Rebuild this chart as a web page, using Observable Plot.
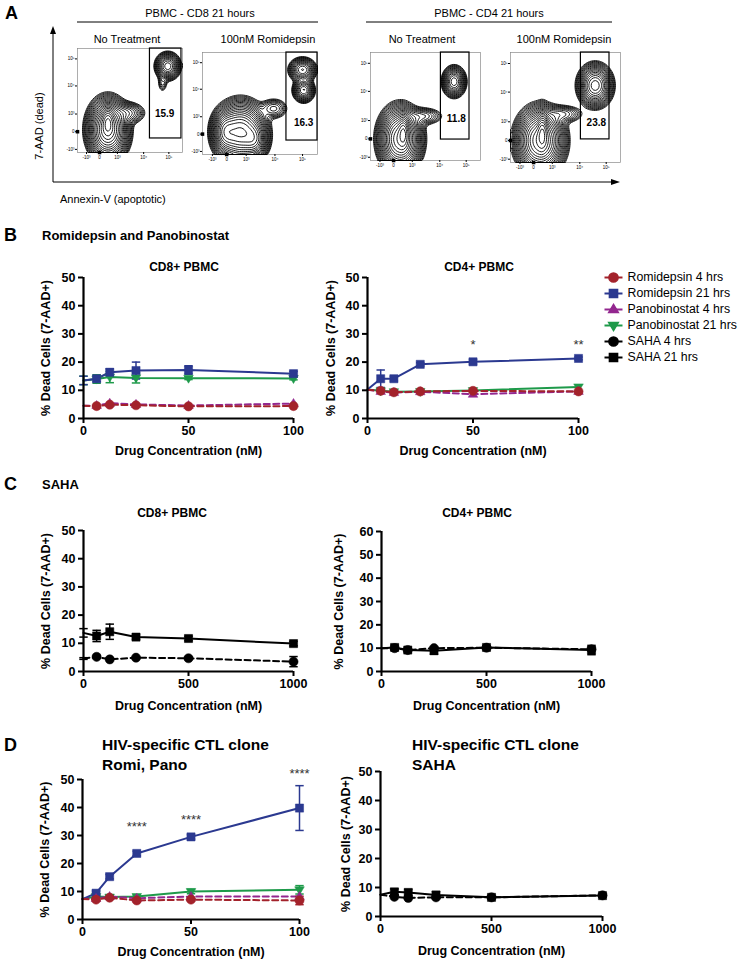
<!DOCTYPE html>
<html><head><meta charset="utf-8">
<script src="https://cdn.jsdelivr.net/npm/d3@7"></script>
<script src="https://cdn.jsdelivr.net/npm/@observablehq/plot@0.6"></script>
<style>
body{margin:0;background:#fff;font-family:"Liberation Sans",Arial,sans-serif;color:#000;}
#root{position:relative;width:744px;height:962px;overflow:hidden;background:#fff;}
.t{position:absolute;white-space:nowrap;line-height:1;}
</style></head><body><div id="root"></div>
<script>
// ---------------- DATA ----------------
const seriesNames = ["Romidepsin 4 hrs","Romidepsin 21 hrs","Panobinostat 4 hrs","Panobinostat 21 hrs","SAHA 4 hrs","SAHA 21 hrs"];
const seriesColors = ["#A3222B","#2B3990","#93278F","#1E9A4A","#000000","#000000"];

const xRP = [0, 6.25, 12.5, 25, 50, 100];
const xSAHA = [0, 62.5, 125, 250, 500, 1000];
const xTicksRP = [0, 50, 100];
const xTicksSAHA = [0, 500, 1000];
const yTicks50 = [0, 10, 20, 30, 40, 50];
const yTicks60 = [0, 10, 20, 30, 40, 50, 60];

// B  CD8+ PBMC
const bCD8_romi4 = [4.5, 4.4, 4.9, 4.7, 4.3, 4.4];
const bCD8_romi21 = [13.5, 14.1, 16.4, 17.0, 17.2, 15.9];
const bCD8_romi21_err = [1.5, 1.0, 1.2, 3.0, 1.5, 0.8];
const bCD8_pano4 = [4.5, 4.6, 5.4, 5.0, 4.6, 5.3];
const bCD8_pano21 = [13.5, 14.0, 14.7, 14.4, 14.3, 14.2];
const bCD8_pano21_err = [1.5, 1.5, 2.0, 1.8, 0.5, 0.5];
// B  CD4+ PBMC
const bCD4_romi4 = [10.2, 9.8, 9.3, 9.6, 9.8, 9.6];
const bCD4_romi21 = [10.3, 14.1, 14.1, 19.2, 20.1, 21.3];
const bCD4_romi21_err = [0, 3.1, 0.8, 0.6, 0.8, 0.5];
const bCD4_pano4 = [10.2, 9.6, 9.2, 9.5, 8.6, 9.6];
const bCD4_pano21 = [10.3, 9.8, 9.5, 9.6, 9.9, 11.2];
const bCD4_starX = [50, 100];
const bCD4_starY = [26, 26];
const bCD4_starText = ["*", "**"];
// C  CD8+ PBMC (SAHA)
const cCD8_saha4 = [4.6, 5.2, 4.3, 4.9, 4.7, 3.5];
const cCD8_saha4_err = [0.3, 0.5, 0.4, 0.4, 0.5, 1.8];
const cCD8_saha21 = [13.7, 12.6, 14.1, 12.2, 11.7, 9.9];
const cCD8_saha21_err = [1.5, 2.0, 2.7, 0.8, 0.8, 0.8];
// C  CD4+ PBMC (SAHA)
const cCD4_saha4 = [10.0, 10.0, 9.2, 10.0, 10.2, 9.5];
const cCD4_saha21 = [10.0, 10.3, 9.2, 8.9, 10.3, 9.2];
const cCD4_saha21_err = [0, 1.0, 0.8, 1.5, 0.8, 2.0];
// D  HIV-specific CTL clone, Romi/Pano
const dRP_romi4 = [7.3, 7.1, 7.8, 6.8, 7.1, 6.8];
const dRP_romi4_err = [0, 0.5, 0.5, 0.5, 0.5, 1.5];
const dRP_romi21 = [7.3, 9.4, 15.3, 23.6, 29.5, 39.8];
const dRP_romi21_err = [0, 0.8, 0.8, 0.8, 0.8, 8.0];
const dRP_pano4 = [7.3, 7.5, 8.2, 7.6, 8.2, 8.2];
const dRP_pano21 = [7.3, 8.2, 8.0, 8.2, 10.0, 10.6];
const dRP_pano21_err = [0, 0.5, 0.5, 0.5, 0.8, 1.5];
const dRP_starX = [25, 50, 100];
const dRP_starY = [33, 35.5, 52];
const dRP_starText = ["****", "****", "****"];
// D  HIV-specific CTL clone, SAHA
const dS_saha4 = [7.5, 6.8, 6.4, 6.6, 6.6, 7.3];
const dS_saha21 = [7.5, 8.5, 8.3, 7.4, 6.6, 7.2];
const dS_saha21_err = [0, 1.0, 1.0, 1.2, 0.5, 0.5];

// A  flow cytometry panels
const flowTitles = ["No Treatment", "100nM Romidepsin", "No Treatment", "100nM Romidepsin"];
const flowGroups = ["PBMC - CD8 21 hours", "PBMC - CD4 21 hours"];
const flowGatePct = ["15.9", "16.3", "11.8", "23.8"];
const flowTickPos = [8.6, 21, 38, 63, 87];
const flowTickPosY = [3, 20, 37, 64, 90];
const flowTickLab = ["-10³", "0", "10³", "10⁴", "10⁵"];
// gate [x1, x2, y1, y2] in display units (0-100)
const flowGates = [[69, 99, 13.5, 100], [73, 100, 13.7, 100], [64, 90, 19.4, 100], [64, 90, 21, 100]];
const flowPctPos = [[83, 37], [88, 31], [78, 39], [78, 36]];
// populations [cx, cy, sx, sy, weight]
const flowPop1 = [[29, 22, 8, 12, 1], [29, 30, 3, 7, 0.6], [47, 38, 8, 5, 0.1], [86, 83, 5, 5.5, 0.35], [81, 67, 2.5, 5, 0.03]];
const flowPop2 = [[33, 22, 9, 12, 1], [20, 22, 5, 9, 0.5], [45, 15, 5, 8, 0.4], [62, 45, 6, 5, 0.06], [87, 83, 5, 5, 0.3], [88, 63, 4, 5, 0.3]];
const flowPop3 = [[27, 20, 8, 12, 1], [30, 26, 2.5, 8, 0.6], [47, 41, 9, 4, 0.07], [76, 73, 4.5, 6, 0.35]];
const flowPop4 = [[27, 20, 9, 12, 1], [29, 28, 2.5, 9, 0.6], [47, 44, 9, 4, 0.07], [77, 70, 6.5, 8, 0.55]];

// ---------------- HELPERS ----------------
const root = document.getElementById("root");
const FONT = '"Liberation Sans", Arial, Helvetica, sans-serif';
function txt(s, x, y, o = {}) {
  const d = document.createElement("div");
  d.className = "t";
  d.textContent = s;
  d.style.left = x + "px"; d.style.top = y + "px";
  d.style.fontSize = (o.size || 12) + "px";
  d.style.fontWeight = o.weight || "normal";
  const tx = o.anchor === "middle" ? "-50%" : "0";
  d.style.transform = `translate(${tx},-50%)`;
  if (o.rotate) { d.style.transform = `translate(-50%,-50%) rotate(${o.rotate}deg)`; }
  root.appendChild(d);
}
function place(el, left, top) {
  el.style.position = "absolute";
  el.style.left = left + "px"; el.style.top = top + "px";
  root.appendChild(el);
}
const triDown = {draw(ctx, size) {
  const r = Math.sqrt(size / Math.PI) * 1.1;
  ctx.moveTo(0, r); ctx.lineTo(r * 0.95, -r * 0.6); ctx.lineTo(-r * 0.95, -r * 0.6); ctx.closePath();
}};
const triUp = {draw(ctx, size) {
  const r = Math.sqrt(size / Math.PI) * 1.1;
  ctx.moveTo(0, -r); ctx.lineTo(r * 0.95, r * 0.6); ctx.lineTo(-r * 0.95, r * 0.6); ctx.closePath();
}};
const capSym = {draw(ctx, size) {
  const r = Math.sqrt(size / Math.PI);
  ctx.moveTo(-r, 0); ctx.lineTo(r, 0);
}};
const symbolRange = [d3.symbolCircle, d3.symbolSquare, triUp, triDown, d3.symbolCircle, d3.symbolSquare];

function linePanel(cfg) {
  const data = cfg.rows.flatMap(r => r.y.map((v, i) => ({
    series: r.name, x: r.x[i], y: v, e: r.e ? r.e[i] : 0, dashed: r.name.includes("4 hrs")
  })));
  const errs = data.filter(d => d.e > 0);
  const marks = [];
  for (const r of cfg.rows) {
    const rd = data.filter(d => d.series === r.name);
    marks.push(Plot.line(rd, {x: "x", y: "y", stroke: "series", strokeWidth: 2,
      strokeDasharray: rd[0].dashed ? "6,3.5" : null}));
  }
  marks.push(
    Plot.ruleX(errs, {x: "x", y1: d => d.y - d.e, y2: d => d.y + d.e, stroke: "series", strokeWidth: 1.5}),
    Plot.dot(errs, {x: "x", y: d => d.y - d.e, symbol: capSym, r: 4.2, stroke: "series", fill: "none", strokeWidth: 1.5}),
    Plot.dot(errs, {x: "x", y: d => d.y + d.e, symbol: capSym, r: 4.2, stroke: "series", fill: "none", strokeWidth: 1.5}),
    Plot.dot(data.filter(d => d.x > 0), {x: "x", y: "y", symbol: "series", fill: "series", stroke: "series", r: 4.6, strokeWidth: 0.5})
  );
  if (cfg.stars) {
    const sd = cfg.stars.x.map((x, i) => ({x, y: cfg.stars.y[i], t: cfg.stars.t[i]}));
    marks.push(Plot.text(sd, {x: "x", y: "y", text: "t", fontSize: 13, fontWeight: "normal", fill: "#333"}));
  }
  marks.push(
    Plot.ruleX([0], {strokeWidth: 2.2}),
    Plot.ruleY([0], {strokeWidth: 2.2}),
    Plot.axisY({ticks: cfg.yTicks, tickSize: 5, tickPadding: 3, strokeWidth: 2, tickFormat: d => String(d),
      label: "% Dead Cells (7-AAD+)", labelAnchor: "center", labelArrow: false, labelOffset: cfg.yLabOff}),
    Plot.axisX({ticks: cfg.xTicks, tickSize: 5, tickPadding: 3, strokeWidth: 2, tickFormat: d => String(d),
      label: "Drug Concentration (nM)", labelAnchor: "center", labelArrow: false, labelOffset: cfg.xLabOff})
  );
  const p = Plot.plot({
    width: cfg.width, height: cfg.height,
    marginLeft: cfg.mL, marginRight: cfg.mR, marginTop: cfg.mT, marginBottom: cfg.mB,
    x: {domain: cfg.xDomain},
    y: {domain: cfg.yDomain},
    color: {domain: seriesNames, range: seriesColors},
    symbol: {domain: seriesNames, range: symbolRange},
    style: {fontFamily: FONT, fontSize: "12.5px", fontWeight: "bold", background: "transparent", overflow: "visible", color: "#000"},
    marks
  });
  place(p, cfg.left, cfg.top);
}

function flowPanel(i, frame, pops) {
  const [fl, ft, fw, fh] = frame;
  const mL = 16, mT = 2, mR = 2, mB = 11;
  const val = (x, y) => {
    let s = 1e-9;
    for (const [cx, cy, sx, sy, w] of pops) s += w * Math.exp(-((x - cx) ** 2 / (2 * sx * sx) + (y - cy) ** 2 / (2 * sy * sy)));
    return Math.log(s);
  };
  const g = flowGates[i];
  const labX = new Map(flowTickPos.map((p, k) => [p, flowTickLab[k]]));
  const labY = new Map(flowTickPosY.map((p, k) => [p, flowTickLab[k]]));
  const marks = [Plot.frame({stroke: "#8a8a8a", strokeWidth: 0.7})];
  if (Plot.contour) {
    marks.push(Plot.contour({value: val, x1: 0, y1: 0, x2: 100, y2: 100,
      thresholds: d3.range(-4.6, 0.4, 0.24), stroke: "#000", strokeWidth: 0.9, fill: "none"}));
  }
  marks.push(
    Plot.rect([g], {x1: d => d[0], x2: d => d[1], y1: d => d[2], y2: d => d[3], fill: "none", stroke: "#000", strokeWidth: 1.2}),
    Plot.text([flowGatePct[i]], {x: flowPctPos[i][0], y: flowPctPos[i][1], text: d => d, fontSize: 10, fontWeight: "bold"}),
    Plot.dot([0], {x: 21, y: 0, symbol: "square", r: 2, fill: "#000"}),
    Plot.dot([0], {x: 0, y: 20, symbol: "square", r: 2, fill: "#000"}),
    Plot.axisX({ticks: flowTickPos, tickFormat: d => labX.get(d), tickSize: 2, tickPadding: 1, fontSize: 4.5, label: null}),
    Plot.axisY({ticks: flowTickPosY, tickFormat: d => labY.get(d), tickSize: 2, tickPadding: 1, fontSize: 4.5, label: null})
  );
  const p = Plot.plot({
    width: fw + mL + mR, height: fh + mT + mB,
    marginLeft: mL, marginRight: mR, marginTop: mT, marginBottom: mB,
    x: {domain: [0, 100]}, y: {domain: [0, 100]},
    style: {fontFamily: FONT, background: "transparent", overflow: "visible"},
    marks
  });
  place(p, fl - mL, ft - mT);
}

// ---------------- PANEL A ----------------
txt("A", 5, 13, {size: 18, weight: "bold"});
txt(flowGroups[0], 200, 13, {size: 11, anchor: "middle"});
txt(flowGroups[1], 489, 13, {size: 11, anchor: "middle"});
const flowTitleX = [127, 268, 422, 564];
flowTitles.forEach((t, i) => txt(t, flowTitleX[i], 39, {size: 11, anchor: "middle"}));
const flowFrames = [[77, 48, 105, 104], [202, 52, 115, 102], [370, 52, 110, 108], [510, 52, 110, 110]];
[flowPop1, flowPop2, flowPop3, flowPop4].forEach((pops, i) => flowPanel(i, flowFrames[i], pops));
{
  const ns = "http://www.w3.org/2000/svg";
  const s = document.createElementNS(ns, "svg");
  s.setAttribute("width", 744); s.setAttribute("height", 200);
  s.innerHTML = `
    <line x1="77" y1="22" x2="318" y2="22" stroke="#000" stroke-width="1"/>
    <line x1="366" y1="22" x2="612" y2="22" stroke="#000" stroke-width="1"/>
    <line x1="53" y1="182" x2="53" y2="32" stroke="#000" stroke-width="1"/>
    <path d="M53,26 L50,34 L56,34 Z" fill="#000"/>
    <line x1="53" y1="182" x2="614" y2="182" stroke="#000" stroke-width="1"/>
    <path d="M620,182 L611,179 L611,185 Z" fill="#000"/>`;
  place(s, 0, 0);
}
txt("7-AAD (dead)", 39, 126, {size: 11, rotate: -90});
txt("Annexin-V (apoptotic)", 60, 199, {size: 11});

// ---------------- PANEL B ----------------
txt("B", 4, 235, {size: 18, weight: "bold"});
txt("Romidepsin and Panobinostat", 42, 235, {size: 13, weight: "bold"});
txt("CD8+ PBMC", 184, 267, {size: 12, weight: "bold", anchor: "middle"});
txt("CD4+ PBMC", 479, 267, {size: 12, weight: "bold", anchor: "middle"});

linePanel({left: 20, top: 255, width: 300, height: 210, mL: 63, mR: 27, mT: 22, mB: 47,
  xDomain: [0, 100], yDomain: [0, 50], xTicks: xTicksRP, yTicks: yTicks50, yLabOff: 42, xLabOff: 36,
  rows: [
    {name: "Panobinostat 21 hrs", x: xRP, y: bCD8_pano21, e: bCD8_pano21_err},
    {name: "Romidepsin 21 hrs", x: xRP, y: bCD8_romi21, e: bCD8_romi21_err},
    {name: "Panobinostat 4 hrs", x: xRP, y: bCD8_pano4},
    {name: "Romidepsin 4 hrs", x: xRP, y: bCD8_romi4}
  ]});
linePanel({left: 320, top: 255, width: 280, height: 210, mL: 47, mR: 22, mT: 22, mB: 47,
  xDomain: [0, 100], yDomain: [0, 50], xTicks: xTicksRP, yTicks: yTicks50, yLabOff: 41, xLabOff: 36,
  stars: {x: bCD4_starX, y: bCD4_starY, t: bCD4_starText},
  rows: [
    {name: "Panobinostat 21 hrs", x: xRP, y: bCD4_pano21},
    {name: "Romidepsin 21 hrs", x: xRP, y: bCD4_romi21, e: bCD4_romi21_err},
    {name: "Panobinostat 4 hrs", x: xRP, y: bCD4_pano4},
    {name: "Romidepsin 4 hrs", x: xRP, y: bCD4_romi4}
  ]});

// legend
{
  const lg = Plot.plot({
    width: 144, height: 102, marginTop: 10, marginBottom: 10, marginLeft: 0, marginRight: 0,
    x: {domain: [0, 144], axis: null},
    y: {type: "point", domain: seriesNames, padding: 0, axis: null},
    color: {domain: seriesNames, range: seriesColors},
    symbol: {domain: seriesNames, range: symbolRange},
    style: {fontFamily: FONT, background: "transparent", overflow: "visible"},
    marks: [
      Plot.link(seriesNames, {x1: 6, x2: 24, y1: d => d, y2: d => d, stroke: d => d, strokeWidth: 2}),
      Plot.dot(seriesNames, {x: 15, y: d => d, symbol: d => d, fill: d => d, stroke: d => d, r: 4.6}),
      Plot.text(seriesNames, {x: 29, y: d => d, text: d => d, textAnchor: "start", fontSize: 12.3, fill: "#000"})
    ]
  });
  place(lg, 598, 266);
}

// ---------------- PANEL C ----------------
txt("C", 4, 484, {size: 18, weight: "bold"});
txt("SAHA", 42, 484, {size: 13, weight: "bold"});
txt("CD8+ PBMC", 172, 513, {size: 12, weight: "bold", anchor: "middle"});
txt("CD4+ PBMC", 477, 513, {size: 12, weight: "bold", anchor: "middle"});

linePanel({left: 20, top: 505, width: 300, height: 215, mL: 63, mR: 27, mT: 25, mB: 49,
  xDomain: [0, 1000], yDomain: [0, 50], xTicks: xTicksSAHA, yTicks: yTicks50, yLabOff: 42, xLabOff: 38,
  rows: [
    {name: "SAHA 4 hrs", x: xSAHA, y: cCD8_saha4, e: cCD8_saha4_err},
    {name: "SAHA 21 hrs", x: xSAHA, y: cCD8_saha21, e: cCD8_saha21_err}
  ]});
linePanel({left: 320, top: 505, width: 290, height: 215, mL: 61, mR: 19, mT: 26, mB: 49,
  xDomain: [0, 1000], yDomain: [0, 60], xTicks: xTicksSAHA, yTicks: yTicks60, yLabOff: 47, xLabOff: 38,
  rows: [
    {name: "SAHA 4 hrs", x: xSAHA, y: cCD4_saha4},
    {name: "SAHA 21 hrs", x: xSAHA, y: cCD4_saha21, e: cCD4_saha21_err}
  ]});

// ---------------- PANEL D ----------------
txt("D", 4, 745, {size: 18, weight: "bold"});
txt("HIV-specific CTL clone", 102, 745, {size: 15.5, weight: "bold"});
txt("Romi, Pano", 102, 765, {size: 15.5, weight: "bold"});
txt("HIV-specific CTL clone", 412, 745, {size: 15.5, weight: "bold"});
txt("SAHA", 412, 765, {size: 15.5, weight: "bold"});

linePanel({left: 20, top: 760, width: 300, height: 202, mL: 62, mR: 21, mT: 19, mB: 43,
  xDomain: [0, 100], yDomain: [0, 50], xTicks: xTicksRP, yTicks: yTicks50, yLabOff: 42, xLabOff: 36,
  stars: {x: dRP_starX, y: dRP_starY, t: dRP_starText},
  rows: [
    {name: "Panobinostat 21 hrs", x: xRP, y: dRP_pano21, e: dRP_pano21_err},
    {name: "Romidepsin 21 hrs", x: xRP, y: dRP_romi21, e: dRP_romi21_err},
    {name: "Panobinostat 4 hrs", x: xRP, y: dRP_pano4},
    {name: "Romidepsin 4 hrs", x: xRP, y: dRP_romi4, e: dRP_romi4_err}
  ]});
linePanel({left: 320, top: 755, width: 300, height: 207, mL: 60, mR: 18, mT: 16, mB: 46,
  xDomain: [0, 1000], yDomain: [0, 50], xTicks: xTicksSAHA, yTicks: yTicks50, yLabOff: 39, xLabOff: 38,
  rows: [
    {name: "SAHA 4 hrs", x: xSAHA, y: dS_saha4},
    {name: "SAHA 21 hrs", x: xSAHA, y: dS_saha21, e: dS_saha21_err}
  ]});
</script></body></html>
